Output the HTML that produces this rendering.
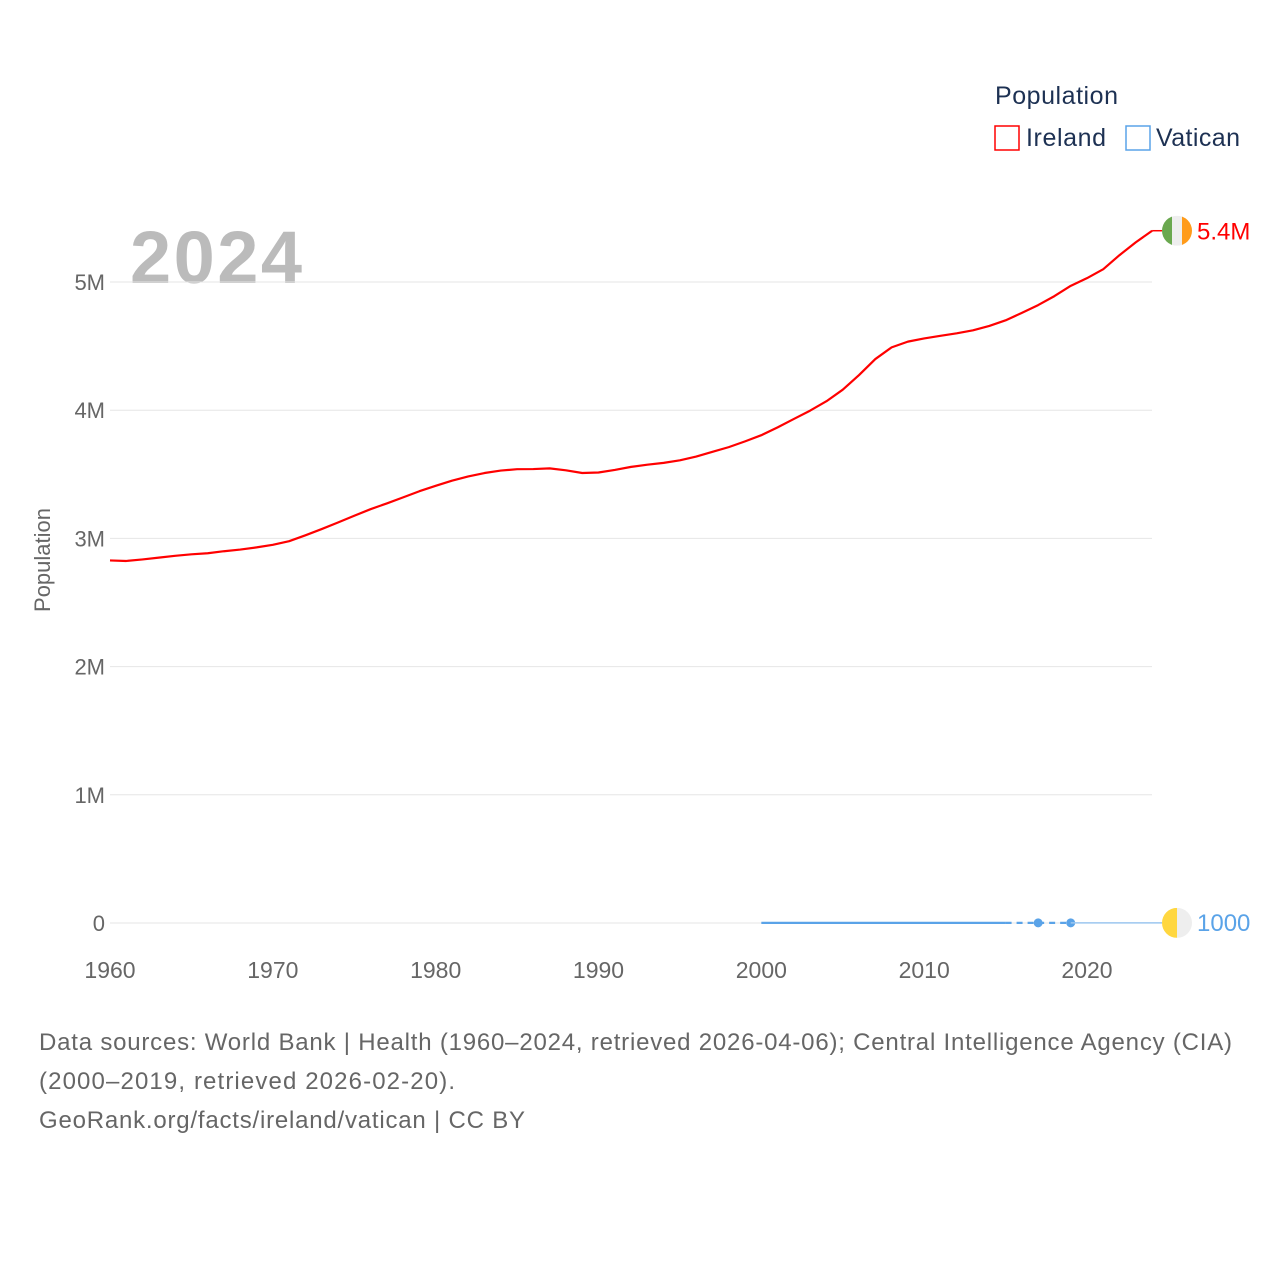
<!DOCTYPE html>
<html><head><meta charset="utf-8"><style>
body{margin:0;background:#fff;width:1280px;height:1280px;overflow:hidden;font-family:"Liberation Sans",sans-serif}
svg text{font-family:"Liberation Sans",sans-serif}
</style></head><body>
<svg id="chart" width="1280" height="1280">
<text x="995" y="104" font-size="25" fill="#1d3153" textLength="123">Population</text>
<g><rect x="995" y="126" width="24" height="24" fill="none" stroke="#f00" stroke-width="1.5"/><text x="1026" y="146" font-size="25" fill="#1d3153" textLength="80">Ireland</text></g>
<g><rect x="1126" y="126" width="24" height="24" fill="none" stroke="#5aa3e8" stroke-width="1.5"/><text x="1156" y="146" font-size="25" fill="#1d3153" textLength="84">Vatican</text></g>
<text x="130" y="283" font-size="74" font-weight="bold" fill="#bbb" textLength="172">2024</text>
<g id="grid"></g><g id="series"></g>
<text transform="translate(50,560) rotate(-90)" text-anchor="middle" font-size="22" fill="#666">Population</text>
<text x="39" y="1050" font-size="24" fill="#666" textLength="1193">Data sources: World Bank | Health (1960–2024, retrieved 2026-04-06); Central Intelligence Agency (CIA)</text>
<text x="39" y="1089" font-size="24" fill="#666" textLength="416">(2000–2019, retrieved 2026-02-20).</text>
<text x="39" y="1128" font-size="24" fill="#666" textLength="486">GeoRank.org/facts/ireland/vatican | CC BY</text>
</svg>
<script>
const yTicks=[0,1,2,3,4,5];
const yTickLabels=["0","1M","2M","3M","4M","5M"];
const xTicks=[1960,1970,1980,1990,2000,2010,2020];
const irelandYears=[1960,1961,1962,1963,1964,1965,1966,1967,1968,1969,1970,1971,1972,1973,1974,1975,1976,1977,1978,1979,1980,1981,1982,1983,1984,1985,1986,1987,1988,1989,1990,1991,1992,1993,1994,1995,1996,1997,1998,1999,2000,2001,2002,2003,2004,2005,2006,2007,2008,2009,2010,2011,2012,2013,2014,2015,2016,2017,2018,2019,2020,2021,2022,2023,2024];
const irelandPop=[2.828,2.824,2.836,2.85,2.864,2.876,2.884,2.9,2.913,2.93,2.95,2.978,3.024,3.073,3.124,3.177,3.228,3.273,3.32,3.368,3.41,3.45,3.483,3.51,3.529,3.54,3.541,3.546,3.531,3.51,3.514,3.534,3.558,3.575,3.589,3.609,3.638,3.675,3.712,3.757,3.805,3.866,3.932,3.997,4.07,4.16,4.274,4.399,4.49,4.535,4.56,4.58,4.6,4.623,4.657,4.701,4.759,4.82,4.89,4.97,5.03,5.1,5.21,5.31,5.4];
const vaticanYears=[2000,2015,2017,2019];
const vaticanPop=[0.00089,0.00084,0.001,0.001];
const X=y=>110+(y-1960)*(977/60), Y=v=>923-v*128.2;
const NS="http://www.w3.org/2000/svg";
const grid=document.getElementById('grid'), ser=document.getElementById('series');
function mk(tag,attrs,parent){const e=document.createElementNS(NS,tag);for(const k in attrs)e.setAttribute(k,attrs[k]);parent.appendChild(e);return e;}
yTicks.forEach((t,i)=>{
 const l=mk('line',{x1:110,x2:1152,y1:Y(t),y2:Y(t),stroke:'#e6e6e6','stroke-width':1},grid);
 
 
 const tx=mk('text',{x:105,y:Y(t)+8,'text-anchor':'end','font-size':22,fill:'#666'},grid);tx.textContent=yTickLabels[i];
 
 
});
xTicks.forEach(t=>{
 const tx=mk('text',{x:X(t),y:978,'text-anchor':'middle','font-size':23,fill:'#666'},grid);tx.textContent=t;
 
 
});
const ip=irelandYears.map((y,i)=>X(y)+','+Y(irelandPop[i])).join(' ');
const il=mk('polyline',{points:ip,fill:'none',stroke:'#f00','stroke-width':2.2,'stroke-linejoin':'round'},ser);


const last=irelandPop[irelandPop.length-1];
mk('line',{x1:X(2024),x2:1162,y1:Y(last),y2:Y(last),stroke:'#f00','stroke-width':1.5},ser);
const v0=mk('line',{x1:X(vaticanYears[0]),x2:X(vaticanYears[1]),y1:Y(vaticanPop[0]),y2:Y(vaticanPop[1]),stroke:'#5aa3e8','stroke-width':2.2},ser);


for(let i=1;i<3;i++){mk('line',{x1:X(vaticanYears[i]),x2:X(vaticanYears[i+1]),y1:Y(vaticanPop[i]),y2:Y(vaticanPop[i+1]),stroke:'#5aa3e8','stroke-width':2.2,'stroke-dasharray':'6,5'},ser);}
for(let i=2;i<4;i++){const c=mk('circle',{cx:X(vaticanYears[i]),cy:Y(vaticanPop[i]),r:4.5,fill:'#5aa3e8'},ser);
 
 }
const vl=vaticanPop[vaticanPop.length-1];
mk('line',{x1:X(2019),x2:1162,y1:Y(vl),y2:Y(vl),stroke:'#9cc6ef','stroke-width':1.5},ser);
function flag(cy,colors,name){const g=mk('g',{},ser);
 const cp=mk('clipPath',{id:name+'c'},g);mk('circle',{cx:1177,cy:cy,r:15},cp);
 const w=30/colors.length;colors.forEach((c,i)=>mk('rect',{x:1162+i*w,y:cy-15,width:w,height:30,fill:c,'clip-path':'url(#'+name+'c)'},g));}
flag(Y(last),['#6aa84f','#eeeeee','#ff9b1a'],'ireland-flag');
flag(Y(vl),['#ffd740','#eeeeee'],'vatican-flag');
const t1=mk('text',{x:1197,y:Y(last)+9,'font-size':24,fill:'#f00'},ser);t1.textContent=(last).toFixed(1)+'M';


const t2=mk('text',{x:1197,y:Y(vl)+8,'font-size':24,fill:'#5aa3e8'},ser);t2.textContent=Math.round(vl*1e6);


</script>
</body></html>
